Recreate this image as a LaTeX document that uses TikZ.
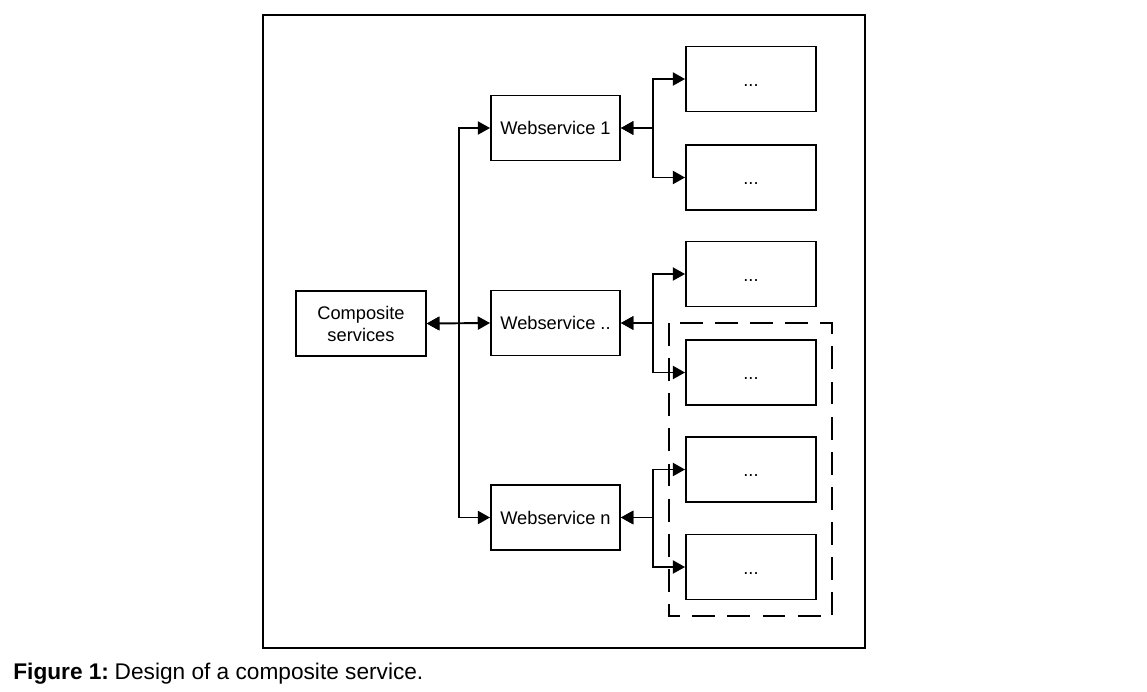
\documentclass[tikz,border=0pt]{standalone}
\usepackage{fontspec}
\setmainfont{Liberation Sans}
\usetikzlibrary{arrows.meta, positioning}

\newcommand{\subdots}{\smash{\raisebox{-4pt}{...}}}

\begin{document}
\begin{tikzpicture}[x=0.02cm, y=-0.02cm,
        block/.style={rectangle, draw, line width=1.1pt, minimum width=2.6cm, minimum height=1.3cm,
            inner sep=0pt, align=center, font=\fontsize{10.4}{12.5}\selectfont},
        link/.style={line width=1.1pt, {Triangle[length=7pt, width=7.5pt]}-{Triangle[length=7pt, width=7.5pt]}},
        group/.style={draw, line width=1.1pt, dash pattern=on 13pt off 7pt}
    ]
        \useasboundingbox (0,0) rectangle (1147,691);
        \draw[line width=1.1pt] (263,15) rectangle (865,648);

        % composite and webservices
        \node[block] (comp) at (361,323.5) {Composite\\services};
        \node[block, minimum width=2.58cm] (ws1) at (555.5,128) {Webservice 1};
        \node[block, minimum width=2.58cm] (ws2) at (555.5,323) {Webservice ..};
        \node[block, minimum width=2.58cm] (wsn) at (555.5,517.5) {Webservice n};

        % sub services
        \node[block] (s1) at (751,79) {\subdots};
        \node[block] (s2) at (751,177.5) {\subdots};
        \node[block] (s3) at (751,274) {\subdots};
        \node[block] (s4) at (751,372.5) {\subdots};
        \node[block] (s5) at (751,469.5) {\subdots};
        \node[block] (s6) at (751,567) {\subdots};

        \draw[group] (669,323) rectangle (832,616);

        \draw[link] (comp.east) -- (ws2.west);
        \draw[link] (comp.east) -- (459,323.5) |- (ws1.west);
        \draw[link] (comp.east) -- (459,323.5) |- (wsn.west);

        \draw[link] (ws1.east) -- (653,128) |- (s1.west);
        \draw[link] (ws1.east) -- (653,128) |- (s2.west);
        \draw[link] (ws2.east) -- (653,323) |- (s3.west);
        \draw[link] (ws2.east) -- (653,323) |- (s4.west);
        \draw[link] (wsn.east) -- (653,517.5) |- (s5.west);
        \draw[link] (wsn.east) -- (653,517.5) |- (s6.west);

        \node[anchor=base west, inner sep=0pt, font=\fontsize{12.9}{15}\selectfont] (cap) at (13,679)
            {\textbf{Figure 1:}\hspace{0.25em}Design of a composite service.};
    \end{tikzpicture}
\end{document}
